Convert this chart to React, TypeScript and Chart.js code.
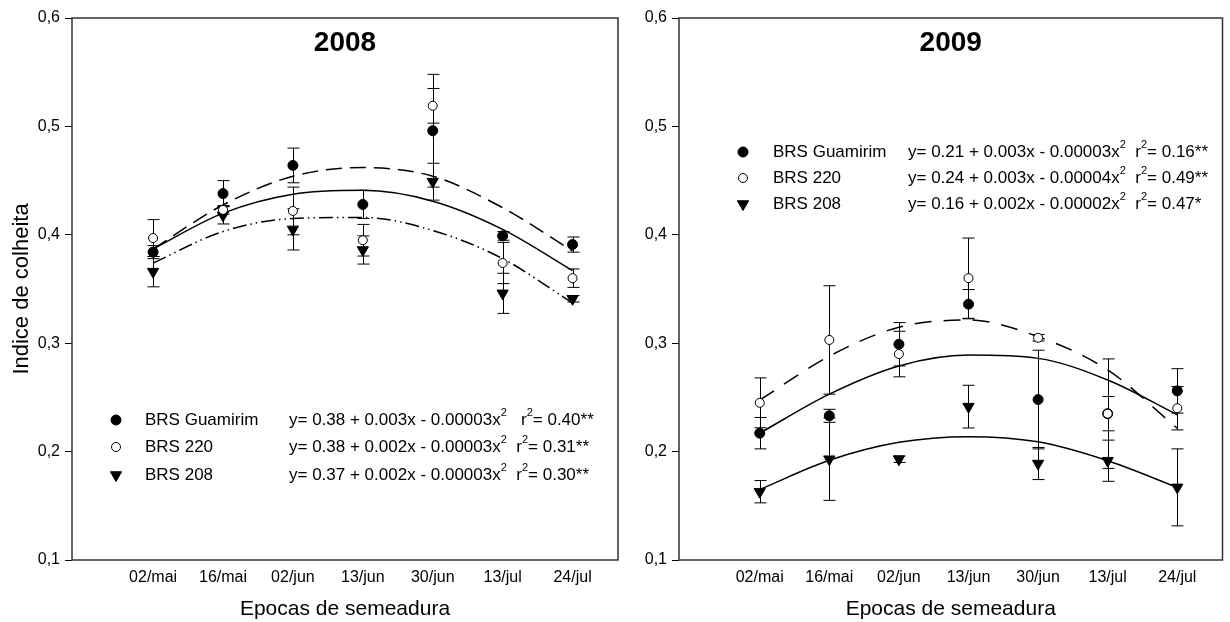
import React, { useEffect, useRef } from 'react';
import { Chart, registerables } from 'chart.js';

Chart.register(...registerables);

// ---------- data ----------
const categories = ['02/mai', '16/mai', '02/jun', '13/jun', '30/jun', '13/jul', '24/jul'];
const xPositions = [1, 2, 3, 4, 5, 6, 7];
const yTicks = [0.1, 0.2, 0.3, 0.4, 0.5, 0.6];
const seriesNames = ['BRS Guamirim', 'BRS 220', 'BRS 208'];

// 2008
const guamirim2008 = [0.384, 0.438, 0.464, 0.428, 0.496, 0.399, 0.391];
const guamirim2008Err = [0.006, 0.012, 0.016, 0.013, 0.052, 0.004, 0.007];
const brs220_2008 = [0.397, 0.423, 0.422, 0.395, 0.519, 0.374, 0.36];
const brs220_2008Err = [0.017, 0.004, 0.022, 0.0146, 0.016, 0.019, 0.0085];
const brs208_2008 = [0.366, 0.418, 0.405, 0.386, 0.449, 0.346, 0.341];
const brs208_2008Err = [0.014, 0.008, 0.019, 0.013, 0.017, 0.0185, 0.003];
const fitGuamirim2008 = [0.387, 0.42, 0.4375, 0.441, 0.431, 0.405, 0.367];
const fitBrs220_2008 = [0.387, 0.4275, 0.454, 0.462, 0.454, 0.425, 0.385];
const fitBrs208_2008 = [0.374, 0.403, 0.415, 0.416, 0.404, 0.378, 0.337];
const equations2008 = [
  'y= 0.38 + 0.003x - 0.00003x',
  'y= 0.38 + 0.002x - 0.00003x',
  'y= 0.37 + 0.002x - 0.00003x',
];
const r2_2008 = ['0.40**', '0.31**', '0.30**'];

// 2009
const guamirim2009 = [0.217, 0.233, 0.299, 0.336, 0.248, 0.235, 0.256];
const guamirim2009Err = [0.0145, 0.006, 0.02, 0.0135, 0.0455, 0.0158, 0.0205];
const brs220_2009 = [0.245, 0.303, 0.29, 0.36, 0.305, 0.235, 0.24];
const brs220_2009Err = [0.023, 0.05, 0.021, 0.037, 0.003, 0.0505, 0.02];
const brs208_2009 = [0.163, 0.193, 0.193, 0.2415, 0.189, 0.1916, 0.167];
const brs208_2009Err = [0.0103, 0.038, 0.003, 0.0197, 0.0148, 0.019, 0.0355];
const fitGuamirim2009 = [0.217, 0.253, 0.279, 0.289, 0.286, 0.266, 0.234];
const fitBrs220_2009 = [0.2476, 0.288, 0.3147, 0.3214, 0.306, 0.2753, 0.2215];
const fitBrs208_2009 = [0.165, 0.192, 0.2086, 0.2138, 0.209, 0.1916, 0.167];
const equations2009 = [
  'y= 0.21 + 0.003x - 0.00003x',
  'y= 0.24 + 0.003x - 0.00004x',
  'y= 0.16 + 0.002x - 0.00002x',
];
const r2_2009 = ['0.16**', '0.49**', '0.47*'];

// ---------- styling ----------
const FONT = '"Liberation Sans", Arial, Helvetica, sans-serif';

const pts = (vals: number[]) => vals.map((v, i) => ({ x: xPositions[i], y: v }));

function drawMarker(ctx: CanvasRenderingContext2D, kind: number, x: number, y: number) {
  ctx.save();
  ctx.lineWidth = 1;
  ctx.strokeStyle = '#000';
  if (kind === 0 || kind === 1) {
    ctx.beginPath();
    ctx.arc(x, y, kind === 0 ? 5 : 4.5, 0, Math.PI * 2);
    ctx.fillStyle = kind === 0 ? '#000' : '#fff';
    ctx.fill();
    ctx.stroke();
  } else {
    const r = 6.5;
    ctx.beginPath();
    ctx.moveTo(x - r * 0.866, y - r * 0.5);
    ctx.lineTo(x + r * 0.866, y - r * 0.5);
    ctx.lineTo(x, y + r);
    ctx.closePath();
    ctx.fillStyle = '#000';
    ctx.fill();
    ctx.stroke();
  }
  ctx.restore();
}

const errorBarsPlugin = {
  id: 'errorBars',
  beforeDatasetsDraw(chart: any) {
    const { ctx, scales } = chart;
    const xs = scales.x;
    const ys = scales.y;
    ctx.save();
    ctx.strokeStyle = '#000';
    ctx.lineWidth = 1;
    chart.data.datasets.forEach((ds: any) => {
      if (!ds.errors) return;
      ds.data.forEach((p: any, j: number) => {
        const e = ds.errors[j];
        const px = Math.round(xs.getPixelForValue(p.x)) + 0.5;
        const top = ys.getPixelForValue(p.y + e);
        const bot = ys.getPixelForValue(p.y - e);
        ctx.beginPath();
        ctx.moveTo(px, top);
        ctx.lineTo(px, bot);
        ctx.moveTo(px - 6, top);
        ctx.lineTo(px + 6, top);
        ctx.moveTo(px - 6, bot);
        ctx.lineTo(px + 6, bot);
        ctx.stroke();
      });
    });
    ctx.restore();
  },
};

const decoPlugin = {
  id: 'deco',
  afterDraw(chart: any, _args: any, opts: any) {
    const { ctx, chartArea } = chart;
    ctx.save();
    // frame
    ctx.strokeStyle = '#333';
    ctx.lineWidth = 1.5;
    ctx.strokeRect(chartArea.left, chartArea.top, chartArea.right - chartArea.left, chartArea.bottom - chartArea.top);
    // panel title
    ctx.fillStyle = '#000';
    ctx.font = `bold 28px ${FONT}`;
    ctx.textAlign = 'center';
    ctx.textBaseline = 'middle';
    ctx.fillText(opts.title, (chartArea.left + chartArea.right) / 2, chartArea.top + 25);
    // legend
    ctx.textAlign = 'left';
    const L = opts.legend;
    L.rows.forEach((rowY: number, i: number) => {
      drawMarker(ctx, i, L.markerX, rowY);
      ctx.font = `17px ${FONT}`;
      ctx.fillText(seriesNames[i], L.nameX, rowY);
      let x = L.eqX;
      const parts: { t: string; sup?: boolean }[] = [
        { t: L.equations[i] },
        { t: '2', sup: true },
        { t: L.gaps[i] + 'r' },
        { t: '2', sup: true },
        { t: '= ' + L.r2[i] },
      ];
      parts.forEach((p) => {
        ctx.font = p.sup ? `11px ${FONT}` : `17px ${FONT}`;
        ctx.fillText(p.t, x, p.sup ? rowY - 7 : rowY);
        x += ctx.measureText(p.t).width;
      });
    });
    ctx.restore();
  },
};

type Panel = {
  g: number[]; gErr: number[];
  b220: number[]; b220Err: number[];
  b208: number[]; b208Err: number[];
  fitG: number[]; fit220: number[]; fit208: number[];
  dashG: number[]; dash220: number[]; dash208: number[];
  padding: any; yWidth: number; showYTitle: boolean;
  title: string; legend: any;
};

function buildConfig(p: Panel): any {
  const curve = (vals: number[], dash: number[]) => ({
    data: pts(vals),
    showLine: true,
    pointRadius: 0,
    borderColor: '#000',
    borderWidth: 1.5,
    borderDash: dash,
    cubicInterpolationMode: 'monotone',
    fill: false,
    order: 10,
  });
  return {
    type: 'line',
    data: {
      datasets: [
        {
          label: seriesNames[0], data: pts(p.g), errors: p.gErr, showLine: false,
          pointStyle: 'circle', pointRadius: 5, pointBackgroundColor: '#000', pointBorderColor: '#000', pointBorderWidth: 1, order: 3,
        },
        {
          label: seriesNames[2], data: pts(p.b208), errors: p.b208Err, showLine: false,
          pointStyle: 'triangle', pointRadius: 6.5, pointRotation: 180, pointBackgroundColor: '#000', pointBorderColor: '#000', pointBorderWidth: 1, order: 2,
        },
        {
          label: seriesNames[1], data: pts(p.b220), errors: p.b220Err, showLine: false,
          pointStyle: 'circle', pointRadius: 4.5, pointBackgroundColor: '#fff', pointBorderColor: '#000', pointBorderWidth: 1, order: 1,
        },
        curve(p.fitG, p.dashG),
        curve(p.fit220, p.dash220),
        curve(p.fit208, p.dash208),
      ],
    },
    options: {
      animation: false,
      responsive: false,
      events: [],
      layout: { padding: p.padding },
      plugins: {
        legend: { display: false },
        tooltip: { enabled: false },
        deco: { title: p.title, legend: p.legend },
      },
      scales: {
        x: {
          type: 'linear',
          min: -0.16,
          max: 7.65,
          afterBuildTicks: (s: any) => { s.ticks = xPositions.map((v) => ({ value: v })); },
          afterFit: (s: any) => { s.height = 62; },
          grid: { display: false, drawTicks: false },
          border: { display: false },
          ticks: {
            autoSkip: false, maxRotation: 0, minRotation: 0, padding: 8, color: '#000',
            font: { family: FONT, size: 16 },
            callback: (v: number) => categories[xPositions.indexOf(v)] ?? '',
          },
          title: {
            display: true, text: 'Epocas de semeadura', color: '#000',
            font: { family: FONT, size: 21 }, padding: { top: 0, bottom: 0 },
          },
        },
        y: {
          type: 'linear',
          min: 0.1,
          max: 0.6,
          afterBuildTicks: (s: any) => { s.ticks = yTicks.map((v) => ({ value: v })); },
          afterFit: (s: any) => { s.width = p.yWidth; },
          grid: { drawOnChartArea: false, drawTicks: true, tickLength: 7, color: '#000', lineWidth: 1 },
          border: { display: false },
          ticks: {
            padding: 5, color: '#000', font: { family: FONT, size: 16 },
            callback: (v: number) => v.toFixed(1).replace('.', ','),
          },
          title: {
            display: p.showYTitle, text: 'Indice de colheita', color: '#000',
            font: { family: FONT, size: 22 }, padding: { top: 9, bottom: 0 },
          },
        },
      },
    },
    plugins: [errorBarsPlugin, decoPlugin],
  };
}

const panel2008: Panel = {
  g: guamirim2008, gErr: guamirim2008Err,
  b220: brs220_2008, b220Err: brs220_2008Err,
  b208: brs208_2008, b208Err: brs208_2008Err,
  fitG: fitGuamirim2008, fit220: fitBrs220_2008, fit208: fitBrs208_2008,
  dashG: [], dash220: [16, 8], dash208: [14, 4, 1.5, 4, 1.5, 4],
  padding: { left: 0, top: 18, right: 612, bottom: 0 },
  yWidth: 72, showYTitle: true, title: '2008',
  legend: {
    markerX: 116, nameX: 145, eqX: 289, rows: [420, 447, 475],
    equations: equations2008, r2: r2_2008, gaps: ['   ', '  ', '  '],
  },
};

const panel2009: Panel = {
  g: guamirim2009, gErr: guamirim2009Err,
  b220: brs220_2009, b220Err: brs220_2009Err,
  b208: brs208_2009, b208Err: brs208_2009Err,
  fitG: fitGuamirim2009, fit220: fitBrs220_2009, fit208: fitBrs208_2009,
  dashG: [], dash220: [17, 12], dash208: [],
  padding: { left: 600, top: 18, right: 3, bottom: 0 },
  yWidth: 79, showYTitle: false, title: '2009',
  legend: {
    markerX: 743, nameX: 773, eqX: 908, rows: [152, 178, 204],
    equations: equations2009, r2: r2_2009, gaps: ['  ', '  ', '  '],
  },
};

function PanelChart({ panel }: { panel: Panel }) {
  const ref = useRef<HTMLCanvasElement | null>(null);
  useEffect(() => {
    if (!ref.current) return;
    const chart = new Chart(ref.current, buildConfig(panel));
    return () => chart.destroy();
  }, [panel]);
  return (
    <canvas
      ref={ref}
      width={1230}
      height={622}
      style={{ position: 'absolute', left: 0, top: 0, width: 1230, height: 622 }}
    />
  );
}

export default function App() {
  return (
    <div style={{ position: 'fixed', left: 0, top: 0, width: 1230, height: 622, background: '#fff' }}>
      <PanelChart panel={panel2008} />
      <PanelChart panel={panel2009} />
    </div>
  );
}
